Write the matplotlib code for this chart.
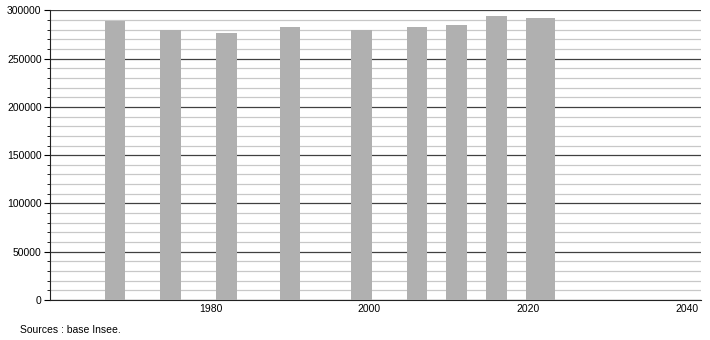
import numpy as np
import matplotlib.pyplot as plt
from matplotlib.ticker import MultipleLocator

annees = [1968, 1975, 1982, 1990, 1999, 2006, 2011, 2016, 2021, 2022]
population = [289200, 279600, 276500, 282700, 279600, 282700, 284800, 294100, 292000, 292000]
xticks = [1980, 2000, 2020, 2040]

plt.rcParams['font.family'] = ['Liberation Sans', 'DejaVu Sans']

fig = plt.figure(figsize=(7.1, 3.4), dpi=100)
ax = fig.add_axes([0.0704, 0.1176, 0.9166, 0.852])

ax.bar(annees, population, width=2.6, color="#b0b0b0", zorder=3)

ax.set_xlim(1959.8, 2041.7)
ax.set_ylim(0, 300000)
ax.set_xticks(xticks)
ax.yaxis.set_major_locator(MultipleLocator(50000))
ax.yaxis.set_minor_locator(MultipleLocator(10000))
ax.grid(axis="y", which="major", color="#404040", linewidth=0.9, zorder=1)
ax.grid(axis="y", which="minor", color="#c8c8c8", linewidth=0.9, zorder=1)

for s in ["top", "right"]:
    ax.spines[s].set_visible(False)
ax.spines["left"].set_color("#222222")
ax.spines["bottom"].set_color("#222222")
ax.tick_params(axis="x", length=0, labelsize=7.5, pad=3)
ax.tick_params(axis="y", which="major", length=4, labelsize=7.5, pad=2)
ax.tick_params(axis="y", which="minor", length=2)

fig.text(0.028, 0.02, "Sources : base Insee.", fontsize=7.5)

fig.savefig("out.png")
